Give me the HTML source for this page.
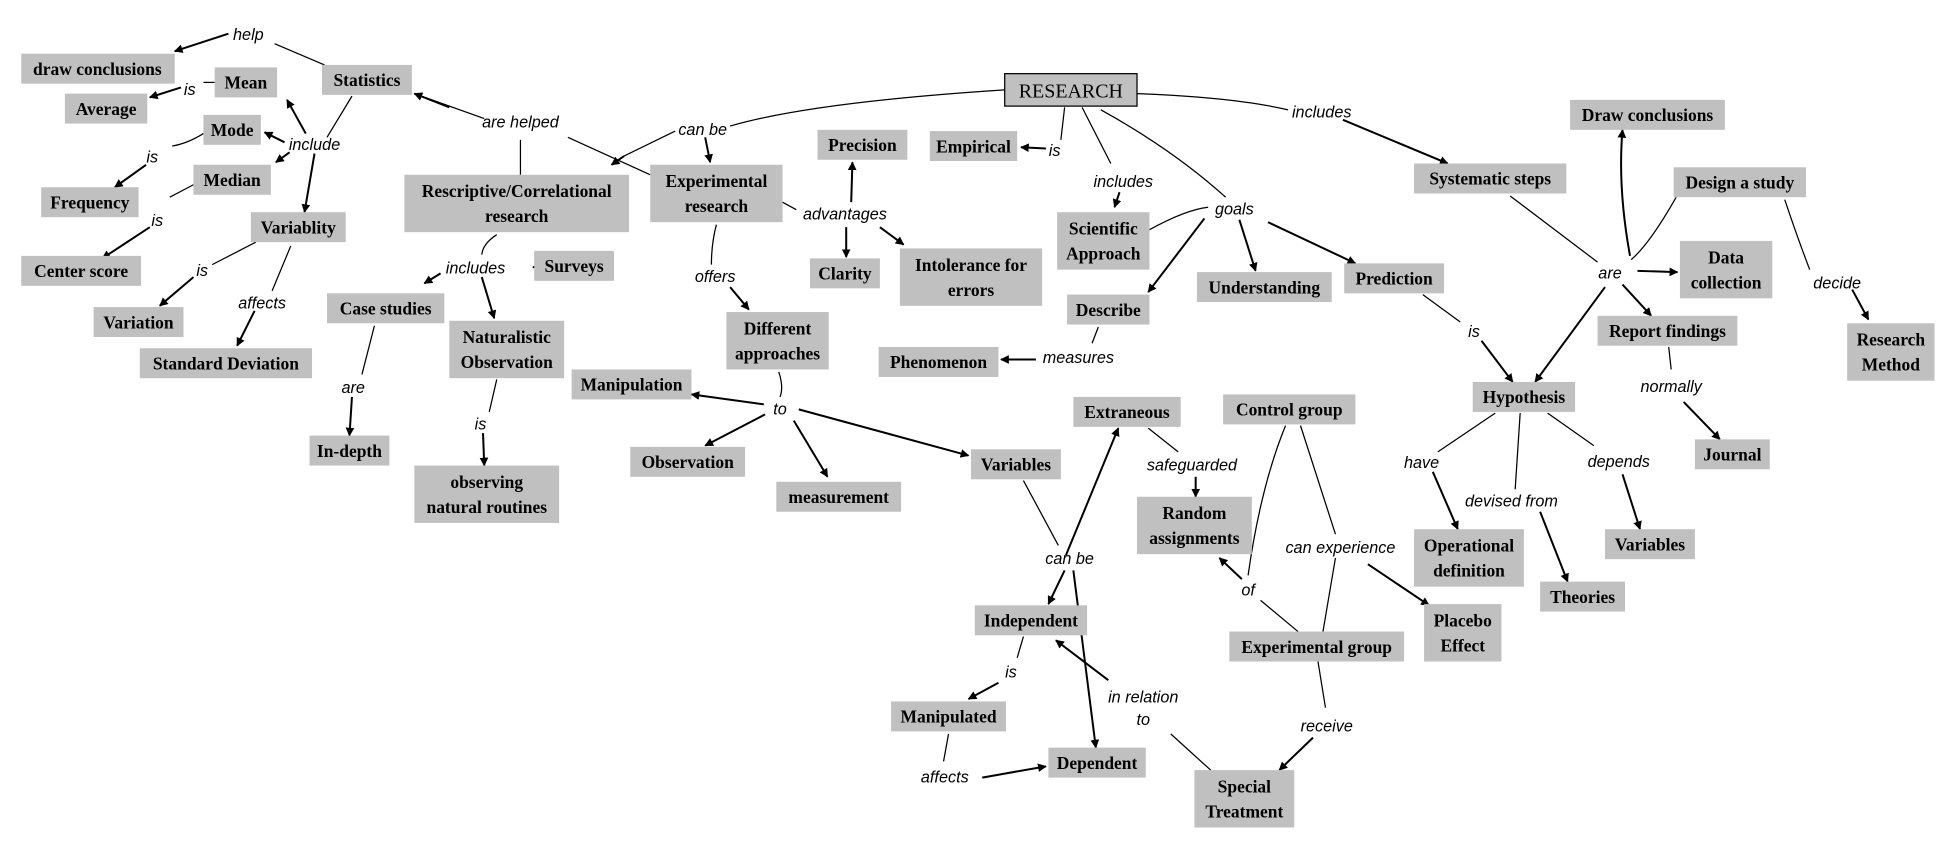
<!DOCTYPE html>
<html><head><meta charset="utf-8"><style>
html,body{margin:0;padding:0;background:#fff;}
svg{display:block}
.n{fill:#c0c0c0}
.t{font-family:"Liberation Serif",serif;font-weight:bold;font-size:14px;fill:#000;text-anchor:middle}
.l{font-family:"Liberation Sans",sans-serif;font-style:italic;font-size:13px;fill:#000;text-anchor:middle}
.e{stroke:#000;stroke-width:1;fill:none}
.a{stroke:#000;stroke-width:1.6;fill:none;marker-end:url(#ar)}
</style></head><body>
<svg width="1957" height="847" viewBox="0 0 1568 678.6" xmlns="http://www.w3.org/2000/svg">
<defs><marker id="ar" viewBox="0 0 10 10" refX="9" refY="5" markerWidth="7" markerHeight="7" orient="auto" markerUnits="userSpaceOnUse"><path d="M0,0L10,5L0,10z" fill="#000"/></marker></defs>
<rect width="1568" height="679" fill="#fff"/>
<!-- edges -->
<g>
<path class="e" d="M260,52 L220,35"/><path class="a" d="M183,27 L140,41"/>
<path class="e" d="M172,66 L163,66"/><path class="a" d="M145,70 L120,78"/>
<path class="e" d="M282,77 L262,110"/>
<path class="a" d="M245,107 L230,80"/><path class="a" d="M228,114 L212,106"/><path class="a" d="M232,122 L221,130"/><path class="a" d="M252,123 L244,170"/>
<path class="e" d="M163,107 Q150,115 138,117"/><path class="a" d="M117,132 L92,150"/>
<path class="e" d="M155,148 L136,158"/><path class="a" d="M120,182 L82,207"/>
<path class="e" d="M205,194 L170,212"/><path class="a" d="M155,222 L128,245"/>
<path class="e" d="M233,197 L218,233"/><path class="a" d="M204,249 L190,277"/>
<path class="e" d="M388,95 L332,75"/><path class="a" d="M360,86 L332,75"/>
<path class="e" d="M417,140 L417,112"/><path class="e" d="M455,110 L521,140"/>
<path class="e" d="M805,72 Q650,82 585,101"/><path class="e" d="M541,105 L500,125"/><path class="a" d="M500,125 L490,132"/>
<path class="a" d="M565,110 L569,130"/>
<path class="e" d="M398,188 Q387,195 386,204"/><path class="a" d="M432,214 L427,214"/><path class="a" d="M353,219 L340,227"/><path class="a" d="M386,222 L396,255"/>
<path class="e" d="M300,261 L290,300"/><path class="a" d="M282,318 L280,349"/>
<path class="e" d="M398,304 L392,330"/><path class="a" d="M387,347 L388,373"/>
<path class="e" d="M574,180 Q570,195 570,212"/><path class="a" d="M585,230 L600,248"/>
<path class="e" d="M627,162 L638,168"/><path class="a" d="M682,162 L683,130"/><path class="a" d="M678,182 L678,206"/><path class="a" d="M705,182 L724,196"/>
<path class="e" d="M624,298 Q628,310 625,318"/>
<path class="a" d="M612,324 L554,316"/><path class="a" d="M613,332 L565,357"/><path class="a" d="M636,337 L663,382"/><path class="a" d="M640,328 L776,365"/>
<path class="e" d="M853,86 L850,112"/><path class="a" d="M838,119 L818,118"/>
<path class="e" d="M867,86 L890,131"/><path class="a" d="M897,154 L893,166"/>
<path class="e" d="M882,88 Q940,120 982,158"/>
<path class="e" d="M921,184 Q950,168 968,166"/>
<path class="a" d="M965,175 L920,234"/><path class="a" d="M993,176 L1006,217"/><path class="a" d="M1016,178 L1086,211"/>
<path class="e" d="M880,262 L875,275"/><path class="a" d="M830,288 L802,288"/>
<path class="e" d="M911,75 Q990,78 1032,88"/><path class="a" d="M1076,96 L1160,131"/>
<path class="e" d="M1140,236 L1170,258"/><path class="a" d="M1187,273 L1212,306"/>
<path class="e" d="M1210,157 L1280,210"/>
<path class="a" d="M1286,230 L1230,306"/><path class="a" d="M1300,228 L1323,253"/><path class="a" d="M1312,217 L1344,218"/>
<path class="e" d="M1307,208 Q1322,195 1343,158"/>
<path class="a" d="M1306,205 Q1296,150 1300,104"/>
<path class="e" d="M1430,160 Q1440,190 1450,216"/><path class="a" d="M1484,232 L1497,256"/>
<path class="e" d="M1337,278 L1339,296"/><path class="a" d="M1349,322 L1378,352"/>
<path class="e" d="M1198,331 L1152,362"/><path class="a" d="M1148,378 L1168,424"/>
<path class="e" d="M1218,331 L1214,392"/><path class="a" d="M1234,410 L1256,466"/>
<path class="e" d="M1240,331 L1277,357"/><path class="a" d="M1300,380 L1314,424"/>
<path class="e" d="M920,343 L944,362"/><path class="a" d="M958,382 L958,398"/>
<path class="e" d="M820,385 L848,437"/>
<path class="a" d="M853,457 L840,484"/><path class="a" d="M854,445 L896,343"/><path class="a" d="M860,457 L878,599"/>
<path class="e" d="M1030,341 Q1010,390 1000,461"/><path class="a" d="M995,464 L977,447"/><path class="e" d="M1010,481 L1040,506"/>
<path class="e" d="M1042,341 L1070,428"/><path class="e" d="M1070,447 L1060,506"/><path class="a" d="M1096,452 L1145,485"/>
<path class="e" d="M1056,530 L1062,567"/><path class="a" d="M1052,591 L1025,617"/>
<path class="e" d="M970,617 L938,588"/><path class="a" d="M888,545 L846,513"/>
<path class="e" d="M820,510 L815,527"/><path class="a" d="M800,547 L776,560"/>
<path class="e" d="M760,588 L756,610"/><path class="a" d="M787,623 L838,614"/>
</g>
<!-- nodes -->
<g>
<rect class="n" x="17" y="43" width="123" height="24"/><text class="t" x="78" y="60">draw conclusions</text>
<rect class="n" x="52" y="75" width="66" height="24"/><text class="t" x="85" y="92">Average</text>
<rect class="n" x="172" y="54" width="50" height="24"/><text class="t" x="197" y="71">Mean</text>
<rect class="n" x="258" y="52" width="72" height="24"/><text class="t" x="294" y="69">Statistics</text>
<rect class="n" x="163" y="92" width="46" height="24"/><text class="t" x="186" y="109">Mode</text>
<rect class="n" x="155" y="132" width="62" height="24"/><text class="t" x="186" y="149">Median</text>
<rect class="n" x="33" y="150" width="78" height="24"/><text class="t" x="72" y="167">Frequency</text>
<rect class="n" x="201" y="170" width="76" height="24"/><text class="t" x="239" y="187">Variablity</text>
<rect class="n" x="17" y="205" width="96" height="24"/><text class="t" x="65" y="222">Center score</text>
<rect class="n" x="75" y="246" width="72" height="24"/><text class="t" x="111" y="263">Variation</text>
<rect class="n" x="112" y="279" width="138" height="24"/><text class="t" x="181" y="296">Standard Deviation</text>
<rect class="n" x="324" y="140" width="180" height="46"/><text class="t" x="414" y="158">Rescriptive/Correlational</text><text class="t" x="414" y="178">research</text>
<rect class="n" x="521" y="132" width="106" height="46"/><text class="t" x="574" y="150">Experimental</text><text class="t" x="574" y="170">research</text>
<rect class="n" x="428" y="201" width="64" height="24"/><text class="t" x="460" y="218">Surveys</text>
<rect class="n" x="262" y="235" width="94" height="24"/><text class="t" x="309" y="252">Case studies</text>
<rect class="n" x="360" y="257" width="92" height="46"/><text class="t" x="406" y="275">Naturalistic</text><text class="t" x="406" y="295">Observation</text>
<rect class="n" x="248" y="349" width="64" height="24"/><text class="t" x="280" y="366">In-depth</text>
<rect class="n" x="332" y="373" width="116" height="46"/><text class="t" x="390" y="391">observing</text><text class="t" x="390" y="411">natural routines</text>
<rect class="n" x="805" y="59" width="106" height="26" stroke="#000" stroke-width="1"/><text class="t" x="858" y="78" style="font-size:16px;font-weight:normal">RESEARCH</text>
<rect class="n" x="745" y="105" width="70" height="24"/><text class="t" x="780" y="122">Empirical</text>
<rect class="n" x="655" y="104" width="72" height="24"/><text class="t" x="691" y="121">Precision</text>
<rect class="n" x="649" y="207" width="56" height="24"/><text class="t" x="677" y="224">Clarity</text>
<rect class="n" x="721" y="199" width="114" height="46"/><text class="t" x="778" y="217">Intolerance for</text><text class="t" x="778" y="237">errors</text>
<rect class="n" x="847" y="170" width="74" height="46"/><text class="t" x="884" y="188">Scientific</text><text class="t" x="884" y="208">Approach</text>
<rect class="n" x="855" y="236" width="66" height="24"/><text class="t" x="888" y="253">Describe</text>
<rect class="n" x="959" y="218" width="108" height="24"/><text class="t" x="1013" y="235">Understanding</text>
<rect class="n" x="1077" y="211" width="80" height="24"/><text class="t" x="1117" y="228">Prediction</text>
<rect class="n" x="704" y="278" width="96" height="24"/><text class="t" x="752" y="295">Phenomenon</text>
<rect class="n" x="582" y="250" width="82" height="46"/><text class="t" x="623" y="268">Different</text><text class="t" x="623" y="288">approaches</text>
<rect class="n" x="458" y="296" width="96" height="24"/><text class="t" x="506" y="313">Manipulation</text>
<rect class="n" x="505" y="358" width="92" height="24"/><text class="t" x="551" y="375">Observation</text>
<rect class="n" x="622" y="386" width="100" height="24"/><text class="t" x="672" y="403">measurement</text>
<rect class="n" x="778" y="360" width="72" height="24"/><text class="t" x="814" y="377">Variables</text>
<rect class="n" x="860" y="318" width="86" height="24"/><text class="t" x="903" y="335">Extraneous</text>
<rect class="n" x="980" y="316" width="106" height="24"/><text class="t" x="1033" y="333">Control group</text>
<rect class="n" x="911" y="398" width="92" height="46"/><text class="t" x="957" y="416">Random</text><text class="t" x="957" y="436">assignments</text>
<rect class="n" x="781" y="485" width="90" height="24"/><text class="t" x="826" y="502">Independent</text>
<rect class="n" x="714" y="562" width="92" height="24"/><text class="t" x="760" y="579">Manipulated</text>
<rect class="n" x="840" y="599" width="78" height="24"/><text class="t" x="879" y="616">Dependent</text>
<rect class="n" x="985" y="506" width="140" height="24"/><text class="t" x="1055" y="523">Experimental group</text>
<rect class="n" x="1141" y="484" width="62" height="46"/><text class="t" x="1172" y="502">Placebo</text><text class="t" x="1172" y="522">Effect</text>
<rect class="n" x="957" y="617" width="80" height="46"/><text class="t" x="997" y="635">Special</text><text class="t" x="997" y="655">Treatment</text>
<rect class="n" x="1133" y="131" width="122" height="24"/><text class="t" x="1194" y="148">Systematic steps</text>
<rect class="n" x="1258" y="80" width="124" height="24"/><text class="t" x="1320" y="97">Draw conclusions</text>
<rect class="n" x="1341" y="134" width="106" height="24"/><text class="t" x="1394" y="151">Design a study</text>
<rect class="n" x="1346" y="193" width="74" height="46"/><text class="t" x="1383" y="211">Data</text><text class="t" x="1383" y="231">collection</text>
<rect class="n" x="1280" y="253" width="112" height="24"/><text class="t" x="1336" y="270">Report findings</text>
<rect class="n" x="1480" y="259" width="70" height="46"/><text class="t" x="1515" y="277">Research</text><text class="t" x="1515" y="297">Method</text>
<rect class="n" x="1180" y="306" width="82" height="24"/><text class="t" x="1221" y="323">Hypothesis</text>
<rect class="n" x="1358" y="352" width="60" height="24"/><text class="t" x="1388" y="369">Journal</text>
<rect class="n" x="1133" y="424" width="88" height="46"/><text class="t" x="1177" y="442">Operational</text><text class="t" x="1177" y="462">definition</text>
<rect class="n" x="1234" y="466" width="68" height="24"/><text class="t" x="1268" y="483">Theories</text>
<rect class="n" x="1286" y="424" width="72" height="24"/><text class="t" x="1322" y="441">Variables</text>
</g>
<!-- labels -->
<g>
<text class="l" x="199" y="32">help</text><text class="l" x="152" y="76">is</text><text class="l" x="252" y="120">include</text>
<text class="l" x="122" y="130">is</text><text class="l" x="126" y="181">is</text><text class="l" x="162" y="221">is</text><text class="l" x="210" y="247">affects</text>
<text class="l" x="417" y="102">are helped</text><text class="l" x="563" y="108">can be</text><text class="l" x="381" y="219">includes</text>
<text class="l" x="283" y="315">are</text><text class="l" x="385" y="344">is</text><text class="l" x="573" y="226">offers</text><text class="l" x="677" y="176">advantages</text>
<text class="l" x="625" y="332">to</text><text class="l" x="845" y="125">is</text><text class="l" x="900" y="150">includes</text><text class="l" x="989" y="172">goals</text>
<text class="l" x="864" y="291">measures</text><text class="l" x="1059" y="94">includes</text><text class="l" x="1181" y="270">is</text><text class="l" x="1290" y="223">are</text>
<text class="l" x="1472" y="231">decide</text><text class="l" x="1339" y="314">normally</text><text class="l" x="1139" y="375">have</text><text class="l" x="1211" y="406">devised from</text>
<text class="l" x="1297" y="374">depends</text><text class="l" x="955" y="377">safeguarded</text><text class="l" x="857" y="452">can be</text><text class="l" x="1074" y="443">can experience</text>
<text class="l" x="1000" y="477">of</text><text class="l" x="916" y="563">in relation</text><text class="l" x="916" y="581">to</text><text class="l" x="810" y="543">is</text>
<text class="l" x="757" y="627">affects</text><text class="l" x="1063" y="586">receive</text>
</g>
</svg>
</body></html>
